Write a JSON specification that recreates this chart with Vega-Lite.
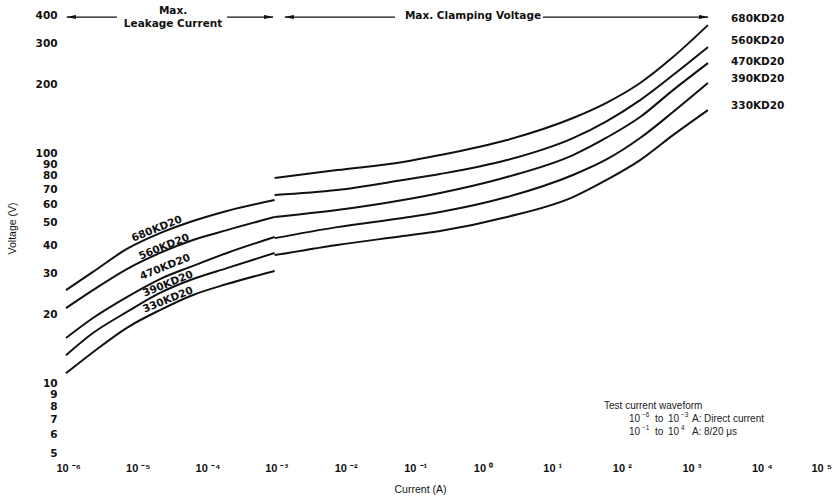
{
  "$schema": "https://vega.github.io/schema/vega-lite/v6.json",
  "width": 765,
  "height": 438,
  "autosize": {"type": "none"},
  "padding": {"left": 66, "top": 15, "right": 2, "bottom": 46},
  "background": "white",
  "config": {"view": {"stroke": null}, "font": "Liberation Sans"},
  "datasets": {
    "curves": [
      {"segment": "680L", "current": 0.000001, "voltage": 25.5},
      {"segment": "680L", "current": 0.00000244, "voltage": 30.6},
      {"segment": "680L", "current": 0.0000075, "voltage": 38.5},
      {"segment": "680L", "current": 0.0000225, "voltage": 45.1},
      {"segment": "680L", "current": 0.000067, "voltage": 50.9},
      {"segment": "680L", "current": 0.000206, "voltage": 56.3},
      {"segment": "680L", "current": 0.001, "voltage": 62.8},
      {"segment": "560L", "current": 0.000001, "voltage": 21.3},
      {"segment": "560L", "current": 0.00000244, "voltage": 25.5},
      {"segment": "560L", "current": 0.0000075, "voltage": 31.5},
      {"segment": "560L", "current": 0.0000225, "voltage": 37.0},
      {"segment": "560L", "current": 0.000067, "voltage": 42.1},
      {"segment": "560L", "current": 0.000206, "voltage": 46.5},
      {"segment": "560L", "current": 0.001, "voltage": 53.0},
      {"segment": "470L", "current": 0.000001, "voltage": 15.8},
      {"segment": "470L", "current": 0.00000244, "voltage": 19.3},
      {"segment": "470L", "current": 0.0000075, "voltage": 23.8},
      {"segment": "470L", "current": 0.0000225, "voltage": 28.5},
      {"segment": "470L", "current": 0.000067, "voltage": 32.5},
      {"segment": "470L", "current": 0.000206, "voltage": 37.0},
      {"segment": "470L", "current": 0.001, "voltage": 43.4},
      {"segment": "390L", "current": 0.000001, "voltage": 13.3},
      {"segment": "390L", "current": 0.00000244, "voltage": 16.6},
      {"segment": "390L", "current": 0.0000075, "voltage": 20.5},
      {"segment": "390L", "current": 0.0000225, "voltage": 24.8},
      {"segment": "390L", "current": 0.000067, "voltage": 28.5},
      {"segment": "390L", "current": 0.000206, "voltage": 31.8},
      {"segment": "390L", "current": 0.001, "voltage": 37.0},
      {"segment": "330L", "current": 0.000001, "voltage": 11.1},
      {"segment": "330L", "current": 0.00000244, "voltage": 13.7},
      {"segment": "330L", "current": 0.0000075, "voltage": 17.5},
      {"segment": "330L", "current": 0.0000225, "voltage": 20.9},
      {"segment": "330L", "current": 0.000067, "voltage": 24.3},
      {"segment": "330L", "current": 0.000206, "voltage": 27.1},
      {"segment": "330L", "current": 0.001, "voltage": 30.9},
      {"segment": "680C", "current": 0.001, "voltage": 78.3},
      {"segment": "680C", "current": 0.0079, "voltage": 84.8},
      {"segment": "680C", "current": 0.07, "voltage": 91.9},
      {"segment": "680C", "current": 0.239, "voltage": 98.5},
      {"segment": "680C", "current": 2.19, "voltage": 114.5},
      {"segment": "680C", "current": 19.5, "voltage": 142.7},
      {"segment": "680C", "current": 60, "voltage": 166.5},
      {"segment": "680C", "current": 180, "voltage": 202.5},
      {"segment": "680C", "current": 535, "voltage": 262.6},
      {"segment": "680C", "current": 1700, "voltage": 361.5},
      {"segment": "560C", "current": 0.001, "voltage": 66.0},
      {"segment": "560C", "current": 0.0079, "voltage": 69.4},
      {"segment": "560C", "current": 0.07, "voltage": 76.7},
      {"segment": "560C", "current": 0.239, "voltage": 81.5},
      {"segment": "560C", "current": 2.19, "voltage": 93.7},
      {"segment": "560C", "current": 19.5, "voltage": 116.8},
      {"segment": "560C", "current": 60, "voltage": 138.5},
      {"segment": "560C", "current": 180, "voltage": 170.8},
      {"segment": "560C", "current": 535, "voltage": 219.4},
      {"segment": "560C", "current": 1700, "voltage": 290.2},
      {"segment": "470C", "current": 0.001, "voltage": 53.0},
      {"segment": "470C", "current": 0.0079, "voltage": 56.8},
      {"segment": "470C", "current": 0.07, "voltage": 62.8},
      {"segment": "470C", "current": 0.239, "voltage": 67.4},
      {"segment": "470C", "current": 2.19, "voltage": 79.1},
      {"segment": "470C", "current": 19.5, "voltage": 98.5},
      {"segment": "470C", "current": 60, "voltage": 117.5},
      {"segment": "470C", "current": 180, "voltage": 144.1},
      {"segment": "470C", "current": 535, "voltage": 188.7},
      {"segment": "470C", "current": 1700, "voltage": 247.3},
      {"segment": "390C", "current": 0.001, "voltage": 42.9},
      {"segment": "390C", "current": 0.0079, "voltage": 47.9},
      {"segment": "390C", "current": 0.07, "voltage": 52.5},
      {"segment": "390C", "current": 0.239, "voltage": 55.7},
      {"segment": "390C", "current": 2.19, "voltage": 64.7},
      {"segment": "390C", "current": 19.5, "voltage": 80.7},
      {"segment": "390C", "current": 60, "voltage": 94.5},
      {"segment": "390C", "current": 180, "voltage": 116.8},
      {"segment": "390C", "current": 535, "voltage": 151.5},
      {"segment": "390C", "current": 1700, "voltage": 202.5},
      {"segment": "330C", "current": 0.001, "voltage": 36.2},
      {"segment": "330C", "current": 0.0079, "voltage": 40.1},
      {"segment": "330C", "current": 0.07, "voltage": 43.8},
      {"segment": "330C", "current": 0.239, "voltage": 46.1},
      {"segment": "330C", "current": 2.19, "voltage": 53.0},
      {"segment": "330C", "current": 19.5, "voltage": 64.7},
      {"segment": "330C", "current": 60, "voltage": 77.0},
      {"segment": "330C", "current": 180, "voltage": 93.7},
      {"segment": "330C", "current": 535, "voltage": 120.3},
      {"segment": "330C", "current": 1700, "voltage": 154.5}
    ],
    "curveLabels": [
      {"label": "680KD20", "current": 0.0000203, "voltage": 47.0},
      {"label": "560KD20", "current": 0.0000257, "voltage": 39.3},
      {"label": "470KD20", "current": 0.0000266, "voltage": 32.1},
      {"label": "390KD20", "current": 0.0000293, "voltage": 27.1},
      {"label": "330KD20", "current": 0.0000293, "voltage": 23.1}
    ],
    "endLabels": [
      {"label": "680KD20", "current": 3650, "voltage": 384},
      {"label": "560KD20", "current": 3650, "voltage": 308},
      {"label": "470KD20", "current": 3650, "voltage": 249.8},
      {"label": "390KD20", "current": 3650, "voltage": 210.7},
      {"label": "330KD20", "current": 3650, "voltage": 160.9}
    ],
    "headers": [
      {"label": "Max.", "current": 0.0000346, "voltage": 418},
      {"label": "Leakage Current", "current": 0.0000346, "voltage": 364},
      {"label": "Max. Clamping Voltage", "current": 0.711, "voltage": 395.8}
    ],
    "arrows": [
      {"current": 0.00000103, "current2": 0.00000541, "voltage": 391.7},
      {"current": 0.000207, "current2": 0.000947, "voltage": 391.7},
      {"current": 0.00141, "current2": 0.0538, "voltage": 391.7},
      {"current": 7.22, "current2": 1700, "voltage": 391.7}
    ],
    "heads": [
      {"dir": "left", "current": 0.00000118, "voltage": 391.7},
      {"dir": "right", "current": 0.00083, "voltage": 391.7},
      {"dir": "left", "current": 0.00161, "voltage": 391.7},
      {"dir": "right", "current": 1493, "voltage": 391.7}
    ],
    "notes": [
      {"label": "Test current waveform", "current": 54.5, "voltage": 8.0},
      {"label": "10", "current": 124.6, "voltage": 7.03},
      {"label": "to", "current": 294.7, "voltage": 7.03},
      {"label": "10", "current": 453.3, "voltage": 7.03},
      {"label": "A:", "current": 1003, "voltage": 7.03},
      {"label": "Direct current", "current": 1492, "voltage": 7.03},
      {"label": "10", "current": 124.6, "voltage": 6.17},
      {"label": "to", "current": 294.7, "voltage": 6.17},
      {"label": "10", "current": 453.3, "voltage": 6.17},
      {"label": "A:", "current": 1003, "voltage": 6.17},
      {"label": "8/20 μs", "current": 1492, "voltage": 6.17}
    ],
    "noteSups": [
      {"label": "−6", "current": 191.6, "voltage": 7.03},
      {"label": "−3", "current": 697, "voltage": 7.03},
      {"label": "−1", "current": 191.6, "voltage": 6.17},
      {"label": "4", "current": 697, "voltage": 6.17}
    ]
  },
  "encoding": {
    "x": {
      "field": "current",
      "type": "quantitative",
      "scale": {"type": "log", "domain": [0.000001, 100000], "nice": false},
      "axis": {
        "values": [0.000001, 0.00001, 0.0001, 0.001, 0.01, 0.1, 1, 10, 100, 1000, 10000, 100000],
        "labelExpr": "'10 ' + ['⁻⁶','⁻⁵','⁻⁴','⁻³','⁻²','⁻¹','⁰','¹','²','³','⁴','⁵'][round(log(datum.value)/LN10)+6]",
        "title": "Current (A)",
        "domain": false,
        "ticks": false,
        "grid": false,
        "labelPadding": 9,
        "labelFont": "Liberation Sans",
        "labelFontSize": 11,
        "labelFontWeight": "bold",
        "labelColor": "#111",
        "labelAlign": "left",
        "labelOffset": {"condition": {"test": "datum.value > 50000", "value": -20}, "value": -10},
        "labelOverlap": false,
        "labelFlush": false,
        "titleFontSize": 10.5,
        "titleFontWeight": "normal",
        "titleColor": "#111",
        "titleX": 354,
        "titleY": 36,
        "titleBaseline": "middle"
      }
    },
    "y": {
      "field": "voltage",
      "type": "quantitative",
      "scale": {"type": "log", "domain": [5, 400], "nice": false},
      "axis": {
        "values": [5, 6, 7, 8, 9, 10, 20, 30, 40, 50, 60, 70, 80, 90, 100, 200, 300, 400],
        "format": "d",
        "title": "Voltage (V)",
        "domain": false,
        "ticks": false,
        "grid": false,
        "labelPadding": 9,
        "labelFont": "DejaVu Sans",
        "labelFontSize": 10.5,
        "labelFontWeight": "bold",
        "labelColor": "#111",
        "labelOverlap": false,
        "labelFlush": false,
        "titleFontSize": 10.5,
        "titleFontWeight": "normal",
        "titleColor": "#111",
        "titleX": -54,
        "titleY": 213,
        "titleBaseline": "middle"
      }
    }
  },
  "layer": [
    {
      "data": {"name": "curves"},
      "mark": {"type": "line", "interpolate": "monotone", "strokeWidth": 2, "color": "#111"},
      "encoding": {"detail": {"field": "segment", "type": "nominal"}}
    },
    {
      "data": {"name": "curveLabels"},
      "mark": {"type": "text", "angle": -22, "font": "DejaVu Sans", "fontSize": 10.5, "fontWeight": "bold", "color": "#111", "align": "center", "baseline": "middle"},
      "encoding": {"text": {"field": "label", "type": "nominal"}}
    },
    {
      "data": {"name": "endLabels"},
      "mark": {"type": "text", "font": "DejaVu Sans", "fontSize": 10.5, "fontWeight": "bold", "color": "#111", "align": "left", "baseline": "middle"},
      "encoding": {"text": {"field": "label", "type": "nominal"}}
    },
    {
      "data": {"name": "headers"},
      "mark": {"type": "text", "font": "DejaVu Sans", "fontSize": 10.5, "fontWeight": "bold", "color": "#111", "align": "center", "baseline": "middle"},
      "encoding": {"text": {"field": "label", "type": "nominal"}}
    },
    {
      "data": {"name": "arrows"},
      "mark": {"type": "rule", "strokeWidth": 1.2, "color": "#111"},
      "encoding": {"x2": {"field": "current2"}}
    },
    {
      "data": {"name": "heads"},
      "mark": {"type": "point", "filled": true, "size": 100, "color": "#111", "opacity": 1},
      "encoding": {
        "shape": {
          "field": "dir",
          "type": "nominal",
          "scale": {"domain": ["left", "right"], "range": ["M -1 0 L 1 -0.4 L 1 0.4 Z", "M 1 0 L -1 -0.4 L -1 0.4 Z"]},
          "legend": null
        }
      }
    },
    {
      "data": {"name": "notes"},
      "mark": {"type": "text", "font": "Liberation Sans", "fontSize": 10, "color": "#222", "align": "left", "baseline": "middle"},
      "encoding": {"text": {"field": "label", "type": "nominal"}}
    },
    {
      "data": {"name": "noteSups"},
      "mark": {"type": "text", "font": "Liberation Sans", "fontSize": 6.5, "color": "#222", "align": "left", "baseline": "middle", "dy": -3.5},
      "encoding": {"text": {"field": "label", "type": "nominal"}}
    }
  ]
}
